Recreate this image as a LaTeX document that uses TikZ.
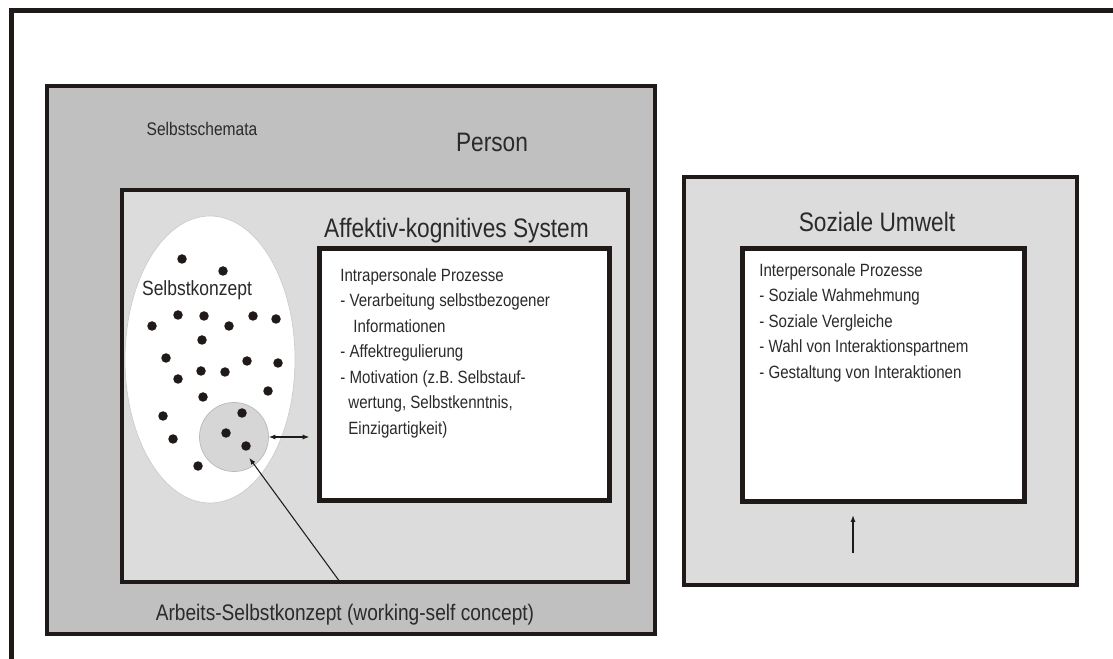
\documentclass[tikz,border=0pt]{standalone}
\usepackage{fontspec}
\setmainfont{Liberation Sans}[FakeStretch=0.85]
\usetikzlibrary{arrows.meta}
\usetikzlibrary{shapes.geometric}
\definecolor{rand}{HTML}{1F1A17}
\definecolor{grauDunkel}{HTML}{C0C0C0}
\definecolor{grauHell}{HTML}{DCDCDC}
\definecolor{grauKreis}{HTML}{D6D6D6}
\definecolor{schrift}{HTML}{2A2A2A}

\begin{document}
\begin{tikzpicture}[
    kasten/.style={draw=rand, line width=2.3pt, inner sep=0pt},
    pfeil/.style={draw=rand, line width=0.6pt, -{Latex[length=1.3mm, width=1mm]}},
    doppelpfeil/.style={draw=rand, line width=0.6pt, {Latex[length=1.3mm, width=1mm]}-{Latex[length=1.3mm, width=1mm]}},
    titel/.style={text=schrift, font=\fontsize{15.2}{18}\selectfont, anchor=base, inner sep=0pt},
    liste/.style={text=schrift, font=\fontsize{10.1}{14.5}\selectfont, align=left, anchor=north west, inner sep=0pt}
  ]
  \useasboundingbox (0, 0) rectangle (22.26, 13.16);
  \draw [draw=rand, line width=2.3pt] (0.23, -0.3) |- (22.6, 12.95);  % Rahmen
  \node [kasten, fill=grauDunkel, minimum width=12.16cm, minimum height=10.96cm] (person) at (7.02, 5.96) {};  % Person
  \node [kasten, fill=grauHell, minimum width=10.12cm, minimum height=7.84cm] (system) at (7.5, 5.44) {};  % System
  \node [ellipse, draw=gray!40, fill=white, line width=0.4pt, inner sep=0pt,
         minimum width=3.4cm, minimum height=5.74cm] (konzept) at (4.2, 5.97) {};  % Selbstkonzept
  \node [circle, draw=gray!55, fill=grauKreis, line width=0.4pt, inner sep=0pt,
         minimum size=1.38cm] (ws) at (4.68, 4.42) {};  % Arbeits-Selbstkonzept
  \foreach \x/\y in {3.64/7.98, 4.46/7.74, 3.56/6.86, 4.08/6.84, 4.58/6.64, 5.06/6.84,
                     5.52/6.78, 3.04/6.64, 4.04/6.36, 3.32/6.00, 4.02/5.74, 4.50/5.72,
                     4.94/5.94, 5.56/5.90, 3.56/5.58, 5.36/5.34, 4.06/5.22, 3.26/4.84,
                     4.84/4.90, 4.52/4.50, 4.92/4.24, 3.46/4.38, 3.96/3.84}
    \fill [rand] (\x, \y) circle (0.095);  % Selbstschemata
  \node [kasten, fill=white, line width=2.6pt, minimum width=5.80cm, minimum height=5.04cm] (intra) at (9.29, 5.67) {};
  \node [kasten, fill=grauHell, minimum width=7.86cm, minimum height=8.16cm] (umwelt) at (17.61, 5.54) {};  % Umwelt
  \node [kasten, fill=white, line width=2.6pt, minimum width=5.64cm, minimum height=5.06cm] (inter) at (17.67, 5.66) {};

  \node [titel, font=\fontsize{10.4}{12}\selectfont] (schemata) at (4.04, 10.44) {Selbstschemata};
  \node [titel] (person-titel) at (9.84, 10.12) {Person};
  \node [titel] (system-titel) at (9.13, 8.40) {Affektiv-kognitives System};
  \node [titel, font=\fontsize{11.7}{14}\selectfont] (konzept-titel) at (3.94, 7.24) {Selbstkonzept};
  \node [titel] (umwelt-titel) at (17.54, 8.52) {Soziale Umwelt};
  \node [titel, font=\fontsize{12.8}{15}\selectfont] (arbeits) at (6.9, 0.76) {Arbeits-Selbstkonzept (working-self concept)};
  \node [liste] (intra-text) at (6.8, 7.80) {Intrapersonale Prozesse\\
    - Verarbeitung selbstbezogener\\ \hspace*{0.26cm}Informationen\\
    - Affektregulierung\\
    - Motivation (z.B. Selbstauf-\\ \hspace*{0.16cm}wertung, Selbstkenntnis,\\ \hspace*{0.16cm}Einzigartigkeit)};
  \node [liste] (inter-text) at (15.18, 7.90) {Interpersonale Prozesse\\
    - Soziale Wahmehmung\\
    - Soziale Vergleiche\\
    - Wahl von Interaktionspartnem\\
    - Gestaltung von Interaktionen};

  \coordinate (ws-fuss) at (6.8, 1.52);
  \coordinate (umwelt-fuss) at (17.06, 2.10);
  \draw [doppelpfeil, shorten >=0.16cm] (ws.east) -- (ws.east -| intra.west);
  \draw [pfeil, shorten >=0.52cm] (ws-fuss) -- (ws.center);
  \draw [pfeil, shorten >=0.23cm] (umwelt-fuss) -- (umwelt-fuss |- inter.south);
\end{tikzpicture}
\end{document}
